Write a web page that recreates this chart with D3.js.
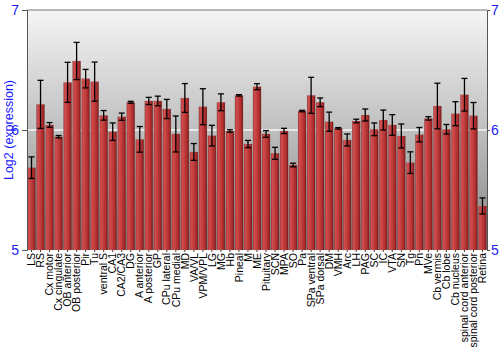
<!DOCTYPE html>
<html>
<head>
<meta charset="utf-8">
<script src="https://cdn.jsdelivr.net/npm/d3@7"></script>
<style>
  body { margin: 0; background: #fff; }
  svg { font-family: "Liberation Sans", Arial, sans-serif; }
</style>
</head>
<body>
<div id="chart"></div>
<script>
// regions, mean log2 expression and error half-widths
const regions = ["LS", "RS", "Cx motor", "Cx cingulate", "OB anterior", "OB posterior", "Pir", "Tu",
  "ventral S", "CA1", "CA2/CA3", "DG", "A anterior", "A posterior", "GP", "CPu lateral", "CPu medial",
  "MD", "VA/VL", "VPM/VPL", "LG", "MG", "Hb", "Pineal", "M", "ME", "Pituitary", "SCN", "MPA", "SO",
  "Pa", "SPa ventral", "SPa dorsal", "DM", "VMH", "Arc", "LH", "PAG", "SC", "IC", "VTA", "SN", "Tg",
  "Pn", "MVe", "Cb vermis", "Cb lobe", "Cb nucleus", "spinal cord anterior", "spinal cord posterior", "Retina"];
const means = [5.686, 6.214, 6.042, 5.944, 6.397, 6.575, 6.428, 6.403,
  6.122, 5.986, 6.111, 6.231, 5.922, 6.242, 6.242, 6.175, 5.967,
  6.267, 5.817, 6.194, 5.953, 6.231, 5.992, 6.289, 5.883, 6.361, 5.967, 5.806, 5.992, 5.708,
  6.158, 6.289, 6.231, 6.069, 6.014, 5.917, 6.075, 6.125, 6.006, 6.083, 6.042, 5.950, 5.728,
  5.961, 6.097, 6.200, 6.006, 6.136, 6.294, 6.119, 5.367];
const errs = [0.09, 0.2, 0.02, 0.01, 0.167, 0.155, 0.077, 0.163,
  0.04, 0.073, 0.03, 0.008, 0.107, 0.03, 0.04, 0.08, 0.15,
  0.12, 0.07, 0.15, 0.086, 0.07, 0.01, 0.006, 0.03, 0.025, 0.028, 0.05, 0.022, 0.015,
  0.006, 0.15, 0.036, 0.08, 0.006, 0.05, 0.015, 0.05, 0.053, 0.083, 0.086, 0.1, 0.09,
  0.06, 0.014, 0.19, 0.04, 0.1, 0.136, 0.11, 0.067];
const yTicks = [5, 6, 7];

const width = 500, height = 350;
const margin = { top: 10, right: 13, bottom: 100, left: 27 };

const svg = d3.select("#chart").append("svg")
  .attr("width", width).attr("height", height);

const defs = svg.append("defs");
const bg = defs.append("linearGradient").attr("id", "bg")
  .attr("x1", 0).attr("y1", 0).attr("x2", 0).attr("y2", 1);
bg.append("stop").attr("offset", "0%").attr("stop-color", "#f5f5f5");
bg.append("stop").attr("offset", "50%").attr("stop-color", "#bfbfbf");
bg.append("stop").attr("offset", "100%").attr("stop-color", "#838383");

const barGrad = defs.append("linearGradient").attr("id", "bar")
  .attr("x1", 0).attr("y1", 0).attr("x2", 1).attr("y2", 0);
[["0%", "#9a2c2c"], ["15%", "#d04f4f"], ["45%", "#c43e3e"], ["80%", "#a82a2a"], ["100%", "#6e1616"]]
  .forEach(s => barGrad.append("stop").attr("offset", s[0]).attr("stop-color", s[1]));

const x = d3.scaleBand()
  .domain(regions)
  .range([margin.left, width - margin.right])
  .paddingInner(0.1).paddingOuter(0.05);

const y = d3.scaleLinear()
  .domain([5, 7])
  .range([height - margin.bottom, margin.top]);

// plot background
svg.append("rect")
  .attr("x", margin.left).attr("y", margin.top)
  .attr("width", width - margin.left - margin.right)
  .attr("height", height - margin.top - margin.bottom)
  .attr("fill", "url(#bg)");

// gridline at 6
svg.append("line")
  .attr("x1", margin.left).attr("x2", width - margin.right)
  .attr("y1", y(6)).attr("y2", y(6))
  .attr("stroke", "#f4f4f4").attr("stroke-width", 1.5);

// top border
svg.append("line")
  .attr("x1", margin.left).attr("x2", width - margin.right)
  .attr("y1", margin.top).attr("y2", margin.top)
  .attr("stroke", "#777");

const data = regions.map((r, i) => ({ name: r, mean: means[i], err: errs[i] }));

svg.append("g")
  .selectAll("rect")
  .data(data)
  .join("rect")
  .attr("x", d => x(d.name))
  .attr("width", x.bandwidth())
  .attr("y", d => y(d.mean))
  .attr("height", d => y(5) - y(d.mean))
  .attr("fill", "url(#bar)")
  .attr("stroke", "rgba(120,120,120,0.35)")
  .attr("stroke-width", 0.5);

// error bars
const eb = svg.append("g").attr("stroke", "#000").attr("stroke-width", 1.3);
data.forEach(d => {
  const cx = x(d.name) + x.bandwidth() / 2;
  eb.append("line").attr("x1", cx).attr("x2", cx)
    .attr("y1", y(d.mean + d.err)).attr("y2", y(d.mean - d.err));
  eb.append("line").attr("x1", cx - 3).attr("x2", cx + 3)
    .attr("y1", y(d.mean + d.err)).attr("y2", y(d.mean + d.err));
  eb.append("line").attr("x1", cx - 3).attr("x2", cx + 3)
    .attr("y1", y(d.mean - d.err)).attr("y2", y(d.mean - d.err));
});

// y axes, left and right
function yAxis(g, axis, size, pad) {
  g.call(axis.tickValues(yTicks).tickSize(size).tickPadding(pad).tickFormat(d3.format("d")))
    .attr("font-size", "14px");
  g.select(".domain").attr("stroke", "#555");
  g.selectAll(".tick line").attr("stroke", "#555");
  g.selectAll(".tick text").attr("fill", "#1a1aff").attr("font-family", "Liberation Sans, Arial, sans-serif");
}
svg.append("g").attr("transform", `translate(${margin.left},0)`)
  .call(g => yAxis(g, d3.axisLeft(y), 5, 3));
svg.append("g").attr("transform", `translate(${width - margin.right},0)`)
  .call(g => yAxis(g, d3.axisRight(y), 3, 1));

// x axis
const xg = svg.append("g").attr("transform", `translate(0,${y(5)})`)
  .call(d3.axisBottom(x).tickSize(2));
xg.select(".domain").remove();
xg.selectAll(".tick line").attr("stroke", "#444");
xg.selectAll(".tick text")
  .attr("font-size", "10.5px")
  .attr("font-family", "Liberation Sans, Arial, sans-serif")
  .attr("fill", "#000")
  .attr("transform", "rotate(-90)")
  .attr("text-anchor", "end")
  .attr("x", -3).attr("y", 0).attr("dy", "0.35em");

svg.append("text")
  .attr("transform", "rotate(-90)")
  .attr("x", -y(6)).attr("y", 13)
  .attr("text-anchor", "middle")
  .attr("fill", "#1a1aff")
  .attr("font-size", "12.5px")
  .text("Log2 (expression)");
</script>
</body>
</html>
